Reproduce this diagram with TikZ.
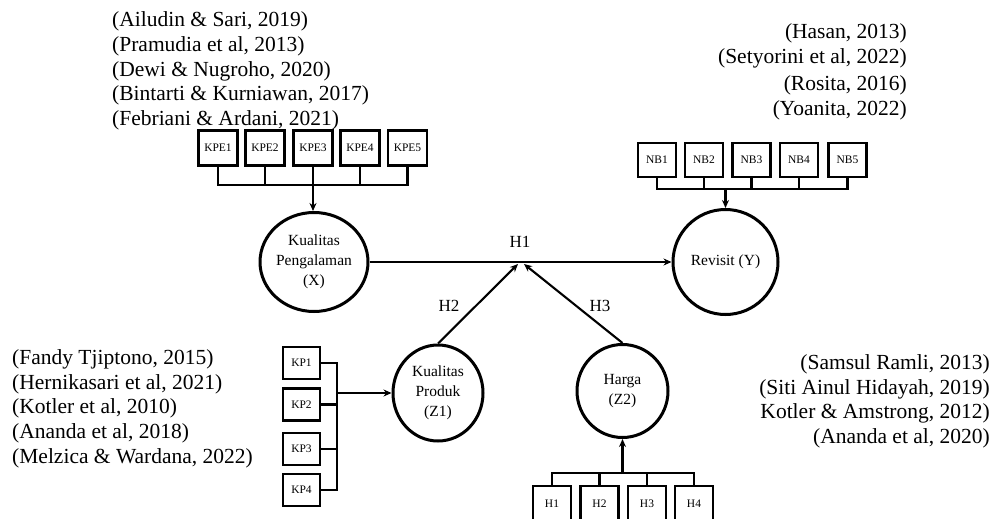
\documentclass[tikz,border=0pt]{standalone}
\usepackage{fontspec}
\setmainfont{Liberation Serif}
\usetikzlibrary{shapes.geometric,arrows.meta}
\begin{document}
\begin{tikzpicture}[x=1pt,y=-1pt,
  ind/.style={draw, line width=2.3pt, minimum width=39pt, minimum height=35pt, inner sep=0pt, font=\fontsize{11.5}{13}\selectfont},
  lat/.style={ellipse, draw, line width=3pt, inner sep=0pt, align=center, font=\fontsize{15.5}{20}\selectfont},
  bus/.style={line width=2.2pt},
  arr/.style={line width=2.1pt, -{Stealth[length=8pt,width=7pt]}},
  ref/.style={font=\fontsize{21.5}{25}\selectfont, inner sep=0pt},
  hyp/.style={font=\fontsize{17}{19}\selectfont, inner sep=0pt}]
\clip (0,0) rectangle (994,519);
% references
\node[ref, anchor=base west] (r1) at (112,27) {(Ailudin \& Sari, 2019)};
\node[ref, anchor=base west] (r2) at (112,52) {(Pramudia et al, 2013)};
\node[ref, anchor=base west] (r3) at (112,76.5) {(Dewi \& Nugroho, 2020)};
\node[ref, anchor=base west] (r4) at (112,101) {(Bintarti \& Kurniawan, 2017)};
\node[ref, anchor=base west] (r5) at (112,125) {(Febriani \& Ardani, 2021)};
\node[ref, anchor=base east] (r6) at (907,39) {(Hasan, 2013)};
\node[ref, anchor=base east] (r7) at (907,64) {(Setyorini et al, 2022)};
\node[ref, anchor=base east] (r8) at (907,90.5) {(Rosita, 2016)};
\node[ref, anchor=base east] (r9) at (907,115.5) {(Yoanita, 2022)};
\node[ref, anchor=base west] (r10) at (12,364.5) {(Fandy Tjiptono, 2015)};
\node[ref, anchor=base west] (r11) at (12,389) {(Hernikasari et al, 2021)};
\node[ref, anchor=base west] (r12) at (12,413.5) {(Kotler et al, 2010)};
\node[ref, anchor=base west] (r13) at (12,438.5) {(Ananda et al, 2018)};
\node[ref, anchor=base west] (r14) at (12,463) {(Melzica \& Wardana, 2022)};
\node[ref, anchor=base east] (r15) at (990,369.5) {(Samsul Ramli, 2013)};
\node[ref, anchor=base east] (r16) at (990,394) {(Siti Ainul Hidayah, 2019)};
\node[ref, anchor=base east] (r17) at (990,418.5) {Kotler \& Amstrong, 2012)};
\node[ref, anchor=base east] (r18) at (990,443.5) {(Ananda et al, 2020)};
% latent variables
\node[lat, minimum width=108pt, minimum height=99pt] (X) at (314,262) {Kualitas\\Pengalaman\\(X)};
\node[lat, minimum width=105pt, minimum height=105pt] (Y) at (725.5,262) {Revisit (Y)};
\node[lat, minimum width=90pt, minimum height=96pt] (Z1) at (438,393) {Kualitas\\Produk\\(Z1)};
\node[lat, minimum width=91pt, minimum height=93pt] (Z2) at (622.5,391) {Harga\\(Z2)};
% KPE indicators
\node[ind] (kpe1) at (218,148) {KPE1};
\node[ind] (kpe2) at (265,148) {KPE2};
\node[ind] (kpe3) at (313,148) {KPE3};
\node[ind] (kpe4) at (360,148) {KPE4};
\node[ind] (kpe5) at (407.5,148) {KPE5};
\draw[bus] (kpe1.south) -- ++(0,18.5) -| (kpe5.south);
\draw[bus] (kpe2.south) -- ++(0,18.5);
\draw[bus] (kpe4.south) -- ++(0,18.5);
\draw[arr] (kpe3.south) -- (X.north -| kpe3.south);
% NB indicators
\node[ind, minimum width=38pt, minimum height=34pt] (nb1) at (657,160) {NB1};
\node[ind, minimum width=38pt, minimum height=34pt] (nb2) at (704,160) {NB2};
\node[ind, minimum width=38pt, minimum height=34pt] (nb3) at (751.5,160) {NB3};
\node[ind, minimum width=38pt, minimum height=34pt] (nb4) at (799,160) {NB4};
\node[ind, minimum width=38pt, minimum height=34pt] (nb5) at (847.5,160) {NB5};
\draw[bus] (nb1.south) -- ++(0,11) -| (nb5.south);
\draw[bus] (nb2.south) -- ++(0,11);
\draw[bus] (nb3.south) -- ++(0,11);
\draw[bus] (nb4.south) -- ++(0,11);
\coordinate (nbb) at (725.5,188);
\draw[arr] (nbb) -- (Y.north);
% KP indicators
\node[ind, minimum width=37pt, minimum height=32pt] (kp1) at (301.5,363) {KP1};
\node[ind, minimum width=37pt, minimum height=32pt] (kp2) at (301.5,404.5) {KP2};
\node[ind, minimum width=37pt, minimum height=32pt] (kp3) at (301.5,449) {KP3};
\node[ind, minimum width=37pt, minimum height=32pt] (kp4) at (301.5,490) {KP4};
\draw[bus] (kp1.east) -- ++(16,0) |- (kp4.east);
\draw[bus] (kp2.east) -- ++(16,0);
\draw[bus] (kp3.east) -- ++(16,0);
\coordinate (kpb) at (336,393);
\draw[arr] (kpb) -- (Z1.west);
% H indicators
\node[ind, minimum width=38pt, minimum height=35pt] (hb1) at (552,503.5) {H1};
\node[ind, minimum width=38pt, minimum height=35pt] (hb2) at (599.5,503.5) {H2};
\node[ind, minimum width=38pt, minimum height=35pt] (hb3) at (647,503.5) {H3};
\node[ind, minimum width=38pt, minimum height=35pt] (hb4) at (694,503.5) {H4};
\draw[bus] (hb1.north) -- ++(0,-12) -| (hb4.north);
\draw[bus] (hb2.north) -- ++(0,-12);
\draw[bus] (hb3.north) -- ++(0,-12);
\coordinate (hbb) at (622.5,474);
\draw[arr] (hbb) -- (Z2.south);
% structural paths
\coordinate (tA) at (518,264);
\coordinate (tB) at (524,264);
\draw[arr] (X) -- (Y);
\draw[arr] (Z1.north) -- (tA);
\draw[arr] (Z2.north) -- (tB);
\node[hyp] (h1) at (520,242) {H1};
\node[hyp] (h2) at (449,306) {H2};
\node[hyp] (h3) at (600,306) {H3};
\end{tikzpicture}
\end{document}
